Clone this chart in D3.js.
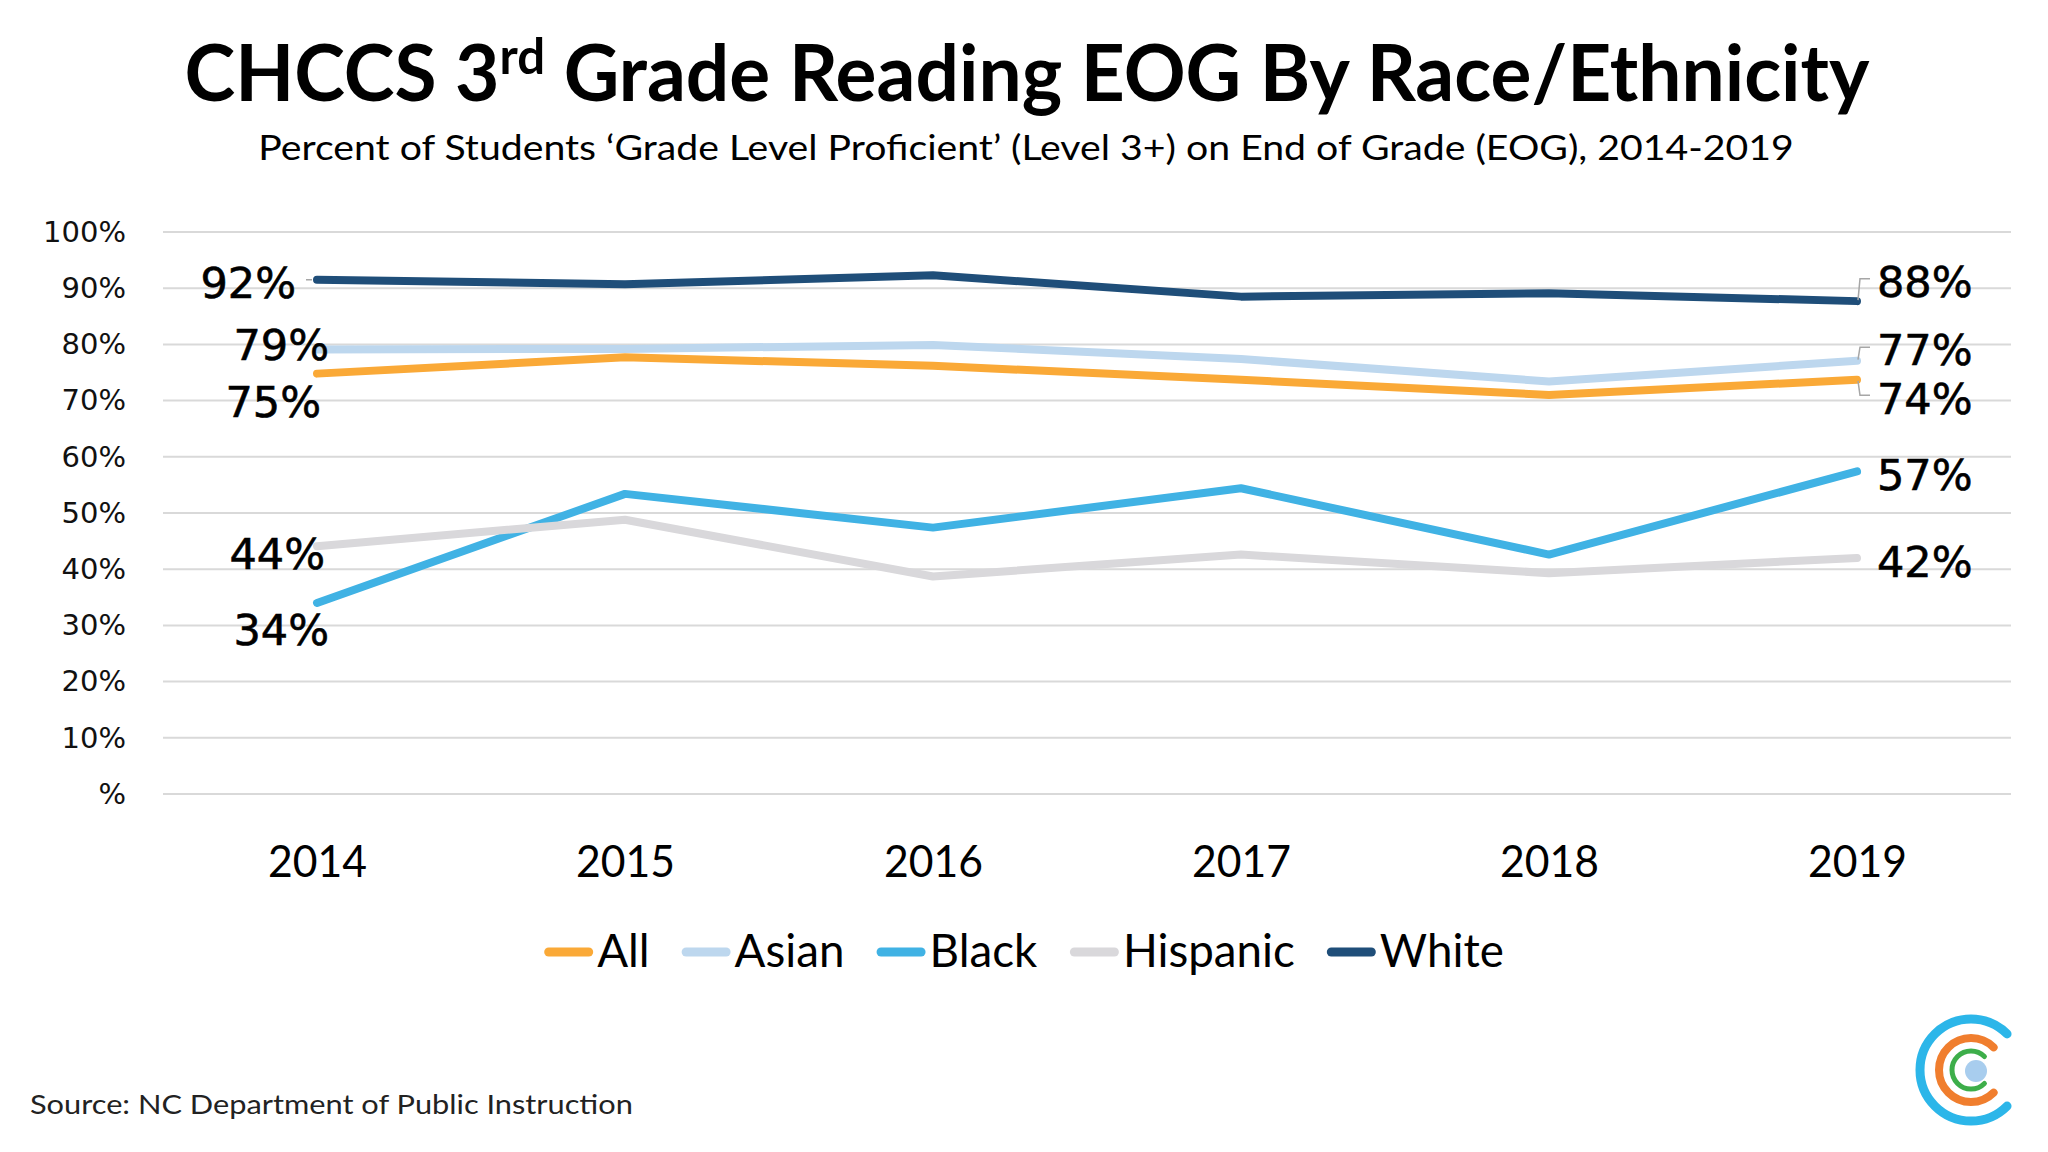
<!DOCTYPE html>
<html>
<head>
<meta charset="utf-8">
<script src="https://cdn.jsdelivr.net/npm/d3@7"></script>
<style>
  html, body { margin: 0; padding: 0; background: #fff; }
  svg { display: block; }
</style>
</head>
<body>
<svg width="2048" height="1152"></svg>
<script>
// values (percent proficient)
const years = ["2014", "2015", "2016", "2017", "2018", "2019"];
const seriesNames = ["All", "Asian", "Black", "Hispanic", "White"];
const allValues = [74.8, 77.7, 76.2, 73.7, 71.0, 73.7];
const asianValues = [79.1, 79.2, 79.9, 77.4, 73.4, 77.1];
const blackValues = [34.0, 53.4, 47.4, 54.4, 42.6, 57.4];
const hispanicValues = [44.1, 48.8, 38.7, 42.6, 39.3, 42.0];
const whiteValues = [91.5, 90.7, 92.3, 88.5, 89.1, 87.7];
const yTicks = [0, 10, 20, 30, 40, 50, 60, 70, 80, 90, 100];
const yTickLabels = ["%", "10%", "20%", "30%", "40%", "50%", "60%", "70%", "80%", "90%", "100%"];

const colors = {
    All: "#FAA937",
    Asian: "#BDD7EE",
    Black: "#40B2E4",
    Hispanic: "#D9D8DB",
    White: "#1F4E79"
};

const series = [
    { name: "All", values: allValues },
    { name: "Asian", values: asianValues },
    { name: "Black", values: blackValues },
    { name: "Hispanic", values: hispanicValues },
    { name: "White", values: whiteValues }
];

// hand placement of the first / last value labels (offset from the point, label centre)
const labelNudge = {
    All:      { start: [4, 28],  end: [20, 18] },
    Asian:    { start: [12, -5], end: [20, -11] },
    Black:    { start: [12, 26], end: [20, 3] },
    Hispanic: { start: [8, 7],   end: [20, 3] },
    White:    { start: [-21, 3], end: [20, -20] }
};

const svg = d3.select("svg");
const calibri = "Lato, 'Open Sans', sans-serif";
const verdana = "'DejaVu Sans', Verdana, sans-serif";

const plot = { left: 163, right: 2011, top: 232, bottom: 794 };

const xScale = d3.scalePoint()
    .domain(years)
    .range([plot.left, plot.right])
    .padding(0.5);

const yScale = d3.scaleLinear()
    .domain([0, 100])
    .range([plot.bottom, plot.top]);

// squeeze a text horizontally around its anchor x so it reaches the target width
function squeeze(sel, target) {
    sel.each(function () {
        const node = d3.select(this);
        const w = this.getBBox().width;
        const k = target / w;
        const ax = +node.attr("x");
        node.attr("transform", `translate(${ax},0) scale(${k},1) translate(${-ax},0)`);
    });
}

//title
const title = svg.append("text")
    .attr("x", 1027)
    .attr("y", 101)
    .attr("text-anchor", "middle")
    .style("font-family", calibri)
    .style("font-weight", 700)
    .style("font-size", "78px")
    .attr("fill", "#000");
title.append("tspan").text("CHCCS 3");
title.append("tspan").attr("dy", -27).style("font-size", "50px").text("rd");
title.append("tspan").attr("dy", 27).text(" Grade Reading EOG By Race/Ethnicity");
squeeze(title, 1686);

const subtitle = svg.append("text")
    .attr("x", 1026)
    .attr("y", 160)
    .attr("text-anchor", "middle")
    .style("font-family", calibri)
    .style("font-size", "34px")
    .attr("fill", "#000")
    .text("Percent of Students \u2018Grade Level Proficient\u2019 (Level 3+) on End of Grade (EOG), 2014-2019");
squeeze(subtitle, 1536);

//grid
svg.append("g").attr("class", "grid")
    .selectAll("line")
    .data(yTicks)
    .enter().append("line")
    .attr("x1", plot.left)
    .attr("x2", plot.right)
    .attr("y1", d => yScale(d))
    .attr("y2", d => yScale(d))
    .attr("stroke", "#D9D9D9")
    .attr("stroke-width", 2);

// y axis labels
const yAxis = d3.axisLeft(yScale)
    .tickValues(yTicks)
    .tickFormat((d, i) => yTickLabels[i])
    .tickSize(0)
    .tickPadding(0);
const gY = svg.append("g")
    .attr("transform", "translate(126,0)")
    .call(yAxis);
gY.select(".domain").remove();
gY.selectAll("text")
    .style("font-family", verdana)
    .style("font-size", "29px")
    .attr("fill", "#111");

// x axis labels
const xAxis = d3.axisBottom(xScale).tickSize(0).tickPadding(0);
const gX = svg.append("g")
    .attr("transform", "translate(0,845)")
    .call(xAxis);
gX.select(".domain").remove();
gX.selectAll("text")
    .attr("dy", 0)
    .style("font-family", calibri)
    .style("font-size", "45px")
    .attr("fill", "#000");
// match calibri width of the digits
const xk = 99 / gX.select("text").node().getBBox().width;
gX.selectAll(".tick text").attr("transform", `scale(${xk},1)`);
gX.attr("transform", "translate(0,877)");

//lines
const line = d3.line()
    .x((d, i) => xScale(years[i]))
    .y(d => yScale(d));

svg.append("g").attr("class", "lines")
    .selectAll("path")
    .data(series)
    .enter().append("path")
    .attr("d", d => line(d.values))
    .attr("fill", "none")
    .attr("stroke", d => colors[d.name])
    .attr("stroke-width", 8)
    .attr("stroke-linecap", "round")
    .attr("stroke-linejoin", "round");

// value labels at both ends
const labelSize = 43;
const gL = svg.append("g").attr("class", "labels");
series.forEach(s => {
    const n = s.values.length;
    const nudge = labelNudge[s.name];

    const x0 = xScale(years[0]), y0 = yScale(s.values[0]);
    const cy0 = y0 + nudge.start[1];
    gL.append("text")
        .attr("x", x0 + nudge.start[0])
        .attr("y", cy0 + labelSize * 0.365)
        .attr("text-anchor", "end")
        .style("font-family", verdana)
        .style("font-size", labelSize + "px")
        .attr("fill", "#000")
        .attr("stroke", "#000")
        .attr("stroke-width", 0.6)
        .text(Math.round(s.values[0]) + "%");
    if (nudge.start[0] < -12) {
        gL.append("line")
            .attr("x1", x0 + nudge.start[0] + 10).attr("x2", x0 - 5)
            .attr("y1", cy0 - 3).attr("y2", cy0 - 3)
            .attr("stroke", "#A6A6A6").attr("stroke-width", 1.5);
    }

    const x1 = xScale(years[n - 1]), y1 = yScale(s.values[n - 1]);
    const cy1 = y1 + nudge.end[1];
    gL.append("text")
        .attr("x", x1 + nudge.end[0])
        .attr("y", cy1 + labelSize * 0.365)
        .attr("text-anchor", "start")
        .style("font-family", verdana)
        .style("font-size", labelSize + "px")
        .attr("fill", "#000")
        .attr("stroke", "#000")
        .attr("stroke-width", 0.6)
        .text(Math.round(s.values[n - 1]) + "%");
    if (Math.abs(nudge.end[1]) > 6) {
        const ly = cy1 - 2.5;
        gL.append("path")
            .attr("d", `M${x1 + 1},${y1 + Math.sign(nudge.end[1])}L${x1 + 3},${ly}L${x1 + 13},${ly}`)
            .attr("fill", "none")
            .attr("stroke", "#A6A6A6")
            .attr("stroke-width", 1.5);
    }
});

//legend
const legend = svg.append("g").attr("class", "legend");
const swatchLen = 49, legendY = 952;
let cursor = 0;
const legendItems = [];
seriesNames.forEach(name => {
    const item = legend.append("g");
    item.append("line")
        .attr("x1", 4.5).attr("x2", swatchLen - 4.5)
        .attr("y1", legendY).attr("y2", legendY)
        .attr("stroke", colors[name])
        .attr("stroke-width", 9)
        .attr("stroke-linecap", "round");
    const t = item.append("text")
        .attr("x", swatchLen + 4)
        .attr("y", 967)
        .style("font-family", calibri)
        .style("font-size", "46px")
        .attr("fill", "#000")
        .text(name);
    legendItems.push({ item, t });
});
// squeeze legend text like the axis labels
const lk = 172 / legendItems[3].t.node().getBBox().width;
legendItems.forEach(({ item, t }) => {
    squeeze(t, t.node().getBBox().width * lk);
    const w = swatchLen + 4 + t.node().getBBox().width * lk;
    item.attr("transform", `translate(${cursor},0)`);
    cursor += w + 32;
});
const legendWidth = cursor - 32;
legend.attr("transform", `translate(${1024 - legendWidth / 2},0)`);

// source
const source = svg.append("text")
    .attr("x", 30)
    .attr("y", 1114)
    .style("font-family", calibri)
    .style("font-size", "27px")
    .attr("fill", "#222")
    .text("Source: NC Department of Public Instruction");
squeeze(source, 603);

// logo
const logo = svg.append("g").attr("transform", "translate(1971,1070)");
const rings = [
    { r: 51, w: 9, c: "#2CB6E9" },
    { r: 32, w: 8, c: "#F07E2E" },
    { r: 19, w: 5, c: "#3DAE4A" }
];
rings.forEach(ring => {
    const p = d3.path();
    p.arc(0, 0, ring.r, Math.PI / 4, Math.PI * 7 / 4);
    logo.append("path")
        .attr("d", p.toString())
        .attr("fill", "none")
        .attr("stroke", ring.c)
        .attr("stroke-width", ring.w)
        .attr("stroke-linecap", "round");
});
logo.append("circle")
    .attr("cx", 5).attr("cy", 1).attr("r", 11)
    .attr("fill", "#A8CDEE");
</script>
</body>
</html>
